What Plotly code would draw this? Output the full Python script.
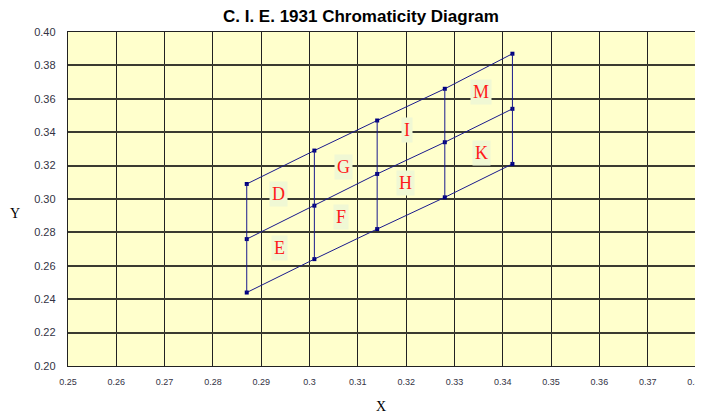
import plotly.graph_objects as go

# Column x positions and the three row y-values per column
col_x = [0.287, 0.301, 0.314, 0.328, 0.342]
top_y = [0.309, 0.329, 0.347, 0.366, 0.387]
mid_y = [0.276, 0.296, 0.315, 0.334, 0.354]
bot_y = [0.244, 0.264, 0.282, 0.301, 0.321]

label_text = ["D", "E", "F", "G", "H", "I", "K", "M"]
label_x = [0.2935, 0.2937, 0.3065, 0.307, 0.3198, 0.3202, 0.3355, 0.3355]
label_y = [0.303, 0.2706, 0.289, 0.319, 0.3096, 0.3413, 0.3275, 0.364]

x_ticks = [0.25, 0.26, 0.27, 0.28, 0.29, 0.30, 0.31, 0.32, 0.33, 0.34, 0.35, 0.36, 0.37, 0.38]
x_tick_text = ["0.25", "0.26", "0.27", "0.28", "0.29", "0.3", "0.31", "0.32", "0.33", "0.34", "0.35", "0.36", "0.37", "0.38"]
y_ticks = [0.20, 0.22, 0.24, 0.26, 0.28, 0.30, 0.32, 0.34, 0.36, 0.38, 0.40]

navy = "#1a1a8c"
fig = go.Figure()

for ys in (top_y, mid_y, bot_y):
    fig.add_trace(go.Scatter(x=col_x, y=ys, mode="lines+markers",
                             line=dict(color=navy, width=1),
                             marker=dict(symbol="square", size=4, color="#000080"),
                             showlegend=False, hoverinfo="skip"))
for i, cx in enumerate(col_x):
    fig.add_trace(go.Scatter(x=[cx, cx, cx], y=[top_y[i], mid_y[i], bot_y[i]], mode="lines",
                             line=dict(color=navy, width=1),
                             showlegend=False, hoverinfo="skip"))

for t, lx, ly in zip(label_text, label_x, label_y):
    fig.add_annotation(x=lx, y=ly, text=t, showarrow=False,
                       font=dict(family="Liberation Serif", size=18, color="#ff1a1a"),
                       bgcolor="#f0f8d4", borderpad=2)

# axis titles as annotations (Y is upright in the reference)
fig.add_annotation(xref="paper", yref="paper", x=-0.0844, y=0.458, text="Y", showarrow=False,
                   xanchor="center", yanchor="middle",
                   font=dict(family="Liberation Serif", size=14, color="black"))
fig.add_annotation(xref="paper", yref="paper", x=0.498, y=-0.12, text="X", showarrow=False,
                   xanchor="center", yanchor="middle",
                   font=dict(family="Liberation Serif", size=14, color="black"))

fig.update_layout(
    width=703, height=414,
    margin=dict(l=60, r=15, t=24, b=56),
    paper_bgcolor="white",
    plot_bgcolor="#ffffcc",
    title=dict(text="<b>C. I. E. 1931 Chromaticity Diagram</b>", x=0.502, xanchor="center",
               y=0.98, yanchor="middle",
               font=dict(family="Liberation Sans", size=17, color="black")),
)
fig.update_xaxes(range=[0.25, 0.38], tickvals=x_ticks, ticktext=x_tick_text,
                 tickfont=dict(family="Liberation Sans", size=9, color="#333344"),
                 showgrid=True, gridcolor="#222222", gridwidth=1.4,
                 showline=True, linecolor="#222222", linewidth=1.4, mirror=True,
                 zeroline=False, ticks="", automargin=False, ticklabelstandoff=7,
                 ticklabeloverflow="allow")
fig.update_yaxes(range=[0.20, 0.40], tickvals=y_ticks, tickformat=".2f",
                 tickfont=dict(family="Liberation Sans", size=11, color="#333344"),
                 showgrid=True, gridcolor="#3a3a30", gridwidth=1.6,
                 showline=True, linecolor="#222222", linewidth=1.4, mirror=True,
                 zeroline=False, ticks="", automargin=False, ticklabelstandoff=9)

fig.write_html("out.html")
